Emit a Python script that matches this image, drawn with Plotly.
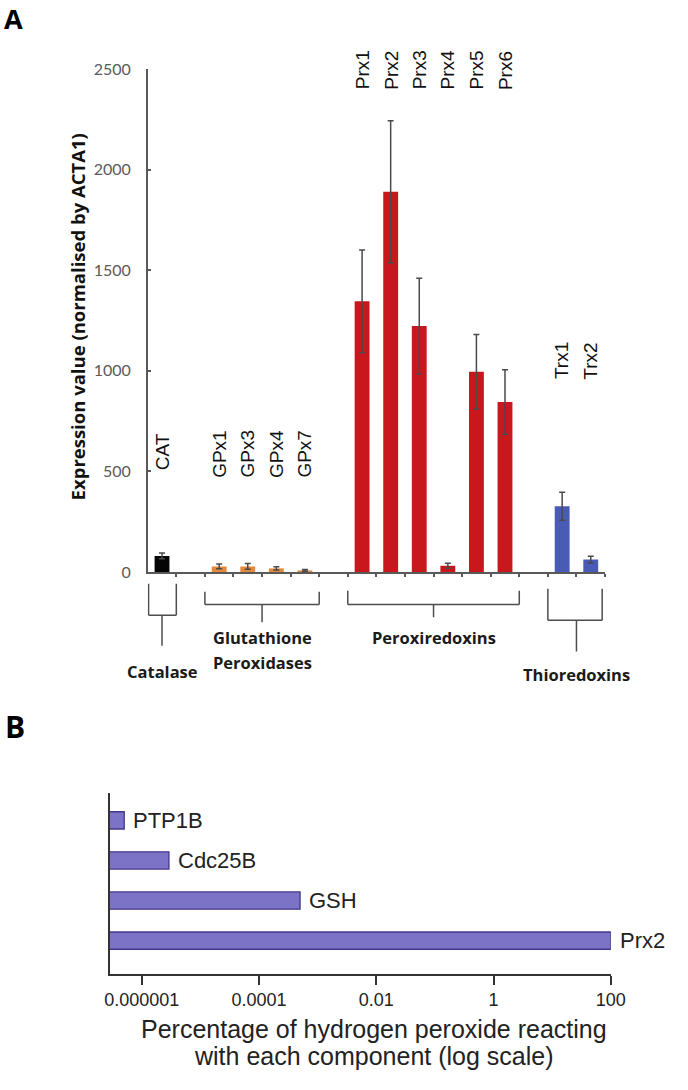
import math
import plotly.graph_objects as go

# ---------------- data ----------------
cat_labels = ["CAT"]
cat_values = [80]
cat_err = [14]

gpx_labels = ["GPx1", "GPx3", "GPx4", "GPx7"]
gpx_values = [28, 28, 18, 8]
gpx_err = [12, 14, 8, 4]

prx_labels = ["Prx1", "Prx2", "Prx3", "Prx4", "Prx5", "Prx6"]
prx_values = [1345, 1890, 1222, 31, 995, 845]
prx_err = [255, 353, 238, 12, 185, 160]

trx_labels = ["Trx1", "Trx2"]
trx_values = [327, 62]
trx_err = [70, 17]

y_ticks = [0, 500, 1000, 1500, 2000, 2500]

h2o2_targets = ["PTP1B", "Cdc25B", "GSH", "Prx2"]
h2o2_percent = [5.0e-7, 2.9e-6, 5.0e-4, 100]

log_tickvals = [1e-6, 1e-4, 1e-2, 1, 100]
log_ticktext = ["0.000001", "0.0001", "0.01", "1", "100"]

# ---------------- layout helpers ----------------
W, H = 688, 1090


def px(x):
    return x / W


def py(y):
    return 1 - y / H


AXIS = "#595959"
fig = go.Figure()

groups = [
    dict(labels=cat_labels, values=cat_values, err=cat_err, color="#050505", start=0, label_px=471),
    dict(labels=gpx_labels, values=gpx_values, err=gpx_err, color="#E4883A", start=2, label_px=478),
    dict(labels=prx_labels, values=prx_values, err=prx_err, color="#C8171D", start=7, label_px=83),
    dict(labels=trx_labels, values=trx_values, err=trx_err, color="#4A5BB6", start=14, label_px=378),
]

annotations = []
for g in groups:
    xs = [g["start"] + i for i in range(len(g["labels"]))]
    fig.add_trace(go.Bar(
        x=xs, y=g["values"], width=0.52,
        marker=dict(color=g["color"], line=dict(width=0)),
        error_y=dict(type="data", array=g["err"], color="#4a4a4a", thickness=1.5, width=3),
        xaxis="x", yaxis="y", showlegend=False,
    ))
    for x, lab in zip(xs, g["labels"]):
        annotations.append(dict(
            x=x, xref="x", y=py(g["label_px"]), yref="paper",
            text=lab, textangle=-90, showarrow=False,
            xanchor="center", yanchor="bottom",
            font=dict(family="Liberation Sans, Arial", size=19, color="#111111"),
        ))

n_slots = 16

# bottom panel bars
pos = list(range(len(h2o2_targets) - 1, -1, -1))
fig.add_trace(go.Bar(
    x=h2o2_percent, y=pos, orientation="h", width=0.43, base=1e-9,
    marker=dict(color="#7C73C7", line=dict(color="#41378A", width=1.3)),
    xaxis="x2", yaxis="y2", showlegend=False,
))
for v, p, lab in zip(h2o2_percent, pos, h2o2_targets):
    annotations.append(dict(
        x=math.log10(v), xref="x2", y=p, yref="y2", text=lab, showarrow=False,
        xanchor="left", yanchor="middle", xshift=7,
        font=dict(family="Liberation Sans, Arial", size=22, color="#222222"),
    ))

# axis titles / panel letters
annotations += [
    dict(x=px(75), y=py(312), xref="paper", yref="paper", text="<b>Expression value (normalised by ACTA1)</b>",
         textangle=-90, showarrow=False, xanchor="center", yanchor="middle",
         font=dict(family="Open Sans", size=18.5, color="#111111")),
    dict(x=px(-3), y=py(-12), xref="paper", yref="paper", text="<b>A</b>", showarrow=False,
         xanchor="left", yanchor="top", font=dict(family="Open Sans", size=27, color="#000000")),
    dict(x=px(-2), y=py(706), xref="paper", yref="paper", text="<b>B</b>", showarrow=False,
         xanchor="left", yanchor="top", font=dict(family="Open Sans", size=30, color="#000000")),
    dict(x=px(380), y=py(1037), xref="paper", yref="paper", text="Percentage of hydrogen peroxide reacting",
         showarrow=False, xanchor="center", yanchor="middle",
         font=dict(family="Liberation Sans, Arial", size=25, color="#222222")),
    dict(x=px(380), y=py(1065), xref="paper", yref="paper", text="with each component (log scale)",
         showarrow=False, xanchor="center", yanchor="middle",
         font=dict(family="Liberation Sans, Arial", size=25, color="#222222")),
]

# group labels
GL = dict(family="Open Sans", size=16.5, color="#1a1a1a")
for x, ypx, txt in [(0, 673, "Catalase"), (3.5, 639, "Glutathione"), (3.5, 664, "Peroxidases"),
                    (9.5, 639, "Peroxiredoxins"), (14.5, 676, "Thioredoxins")]:
    annotations.append(dict(x=x, xref="x", y=py(ypx), yref="paper", text="<b>%s</b>" % txt,
                            showarrow=False, xanchor="center", yanchor="middle", font=GL))

# brackets
shapes = []
BR = dict(color="#4d4d4d", width=1.5)


def seg(x0, y0, x1, y1):
    shapes.append(dict(type="line", xref="x", yref="paper", x0=x0, x1=x1, y0=py(y0), y1=py(y1), line=BR))


def bracket(xl, xr, ytop, ybar, xs, ystem):
    seg(xl, ytop, xl, ybar)
    seg(xr, ytop, xr, ybar)
    seg(xl, ybar, xr, ybar)
    seg(xs, ybar, xs, ystem)


bracket(-0.47, 0.5, 584, 616, 0, 647)
bracket(1.5, 5.5, 592, 605, 3.5, 623)
bracket(6.5, 12.5, 591, 605, 9.5, 618)
bracket(13.5, 15.4, 589, 621, 14.5, 653)

fig.update_layout(
    width=W, height=H, autosize=False,
    margin=dict(l=0, r=0, t=0, b=0),
    paper_bgcolor="white", plot_bgcolor="white",
    barmode="overlay", showlegend=False,
    annotations=annotations, shapes=shapes,
    xaxis=dict(domain=[px(147), px(618)], range=[-0.5, n_slots - 0.5], anchor="y",
               showline=True, linecolor=AXIS, linewidth=1.5, showgrid=False, zeroline=False,
               tickmode="array", tickvals=[i + 0.5 for i in range(n_slots)], ticks="outside",
               ticklen=3, tickcolor=AXIS, tickwidth=1.5, showticklabels=False, fixedrange=True),
    yaxis=dict(domain=[py(572), py(60)], range=[0, 2500], anchor="x",
               showline=True, linecolor=AXIS, linewidth=1.5, showgrid=False, zeroline=False,
               tickmode="array", tickvals=y_ticks, ticks="inside", ticklen=4, tickcolor=AXIS,
               tickwidth=1.5, ticklabelstandoff=12,
               tickfont=dict(family="Lato", size=16, color="#5a5a5a")),
    xaxis2=dict(domain=[px(108), px(624)], type="log", range=[-6.545, 2.0], anchor="y2",
                showline=True, linecolor="#333333", linewidth=1.5, showgrid=False, zeroline=False,
                tickmode="array", tickvals=log_tickvals, ticktext=log_ticktext, ticks="outside",
                ticklen=9, tickcolor="#333333", tickwidth=1.5,
                tickfont=dict(family="Liberation Sans, Arial", size=18, color="#222222")),
    yaxis2=dict(domain=[py(981), py(797)], range=[-0.83, 3.68], anchor="x2",
                showline=True, linecolor="#333333", linewidth=1.5, showgrid=False, zeroline=False,
                showticklabels=False, ticks=""),
)

fig.write_html("out.html", config={"displayModeBar": False},
               post_script="document.body.style.margin='0';document.body.style.overflow='hidden';")
